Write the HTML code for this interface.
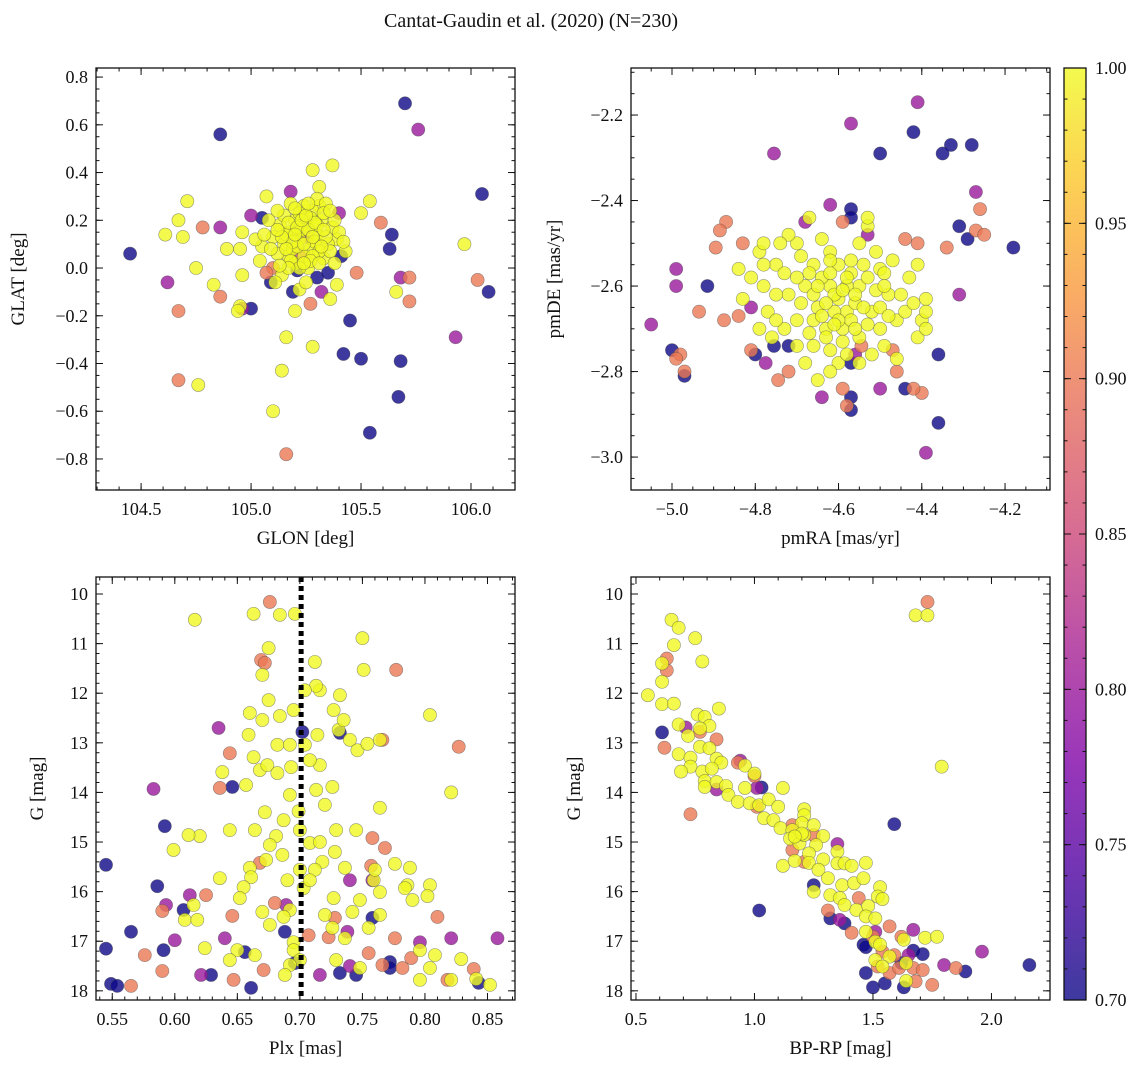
<!DOCTYPE html>
<html><head><meta charset="utf-8">
<style>
html,body{margin:0;padding:0;background:#fff;}
svg text{font-family:"Liberation Serif",serif;fill:#111;}
</style></head>
<body>
<svg id="fig" width="1148" height="1067" viewBox="0 0 1148 1067" xmlns="http://www.w3.org/2000/svg">
<text x="531" y="27" text-anchor="middle" font-size="20">Cantat-Gaudin et al. (2020) (N=230)</text>
</svg>
<script>
// ---- data: [x, y, membership probability] ----
const skyStars = [
[104.45,0.06,.7],[104.86,0.56,.7],[105.70,0.69,.7],[105.76,0.58,.8],[106.05,0.31,.7],[106.08,-0.10,.7],[106.03,-0.05,.9],[105.97,0.10,1],[105.93,-0.29,.8],
[104.62,-0.06,.8],[104.67,-0.18,.9],[104.67,-0.47,.9],[104.76,-0.49,1],[105.10,-0.60,1],[105.16,-0.78,.9],[105.14,-0.43,1],[105.16,-0.29,1],[105.28,-0.33,1],
[105.42,-0.36,.7],[105.50,-0.38,.7],[105.45,-0.22,.7],[105.54,-0.69,.7],[105.67,-0.54,.7],[105.68,-0.39,.7],[105.64,0.14,.7],[105.63,0.08,.7],[105.68,-0.04,.8],
[105.72,-0.04,.9],[105.72,-0.14,.9],[105.66,-0.10,1],[105.54,0.28,1],[105.50,0.23,1],[105.59,0.19,.9],[105.37,0.43,1],[105.28,0.41,1],[104.71,0.28,1],
[104.61,0.14,1],[104.67,0.20,1],[104.69,0.13,1],[104.78,0.17,.9],[104.75,0.00,1],[104.83,-0.07,1],[104.86,-0.12,.9],[104.86,0.17,.8],[104.89,0.08,1],
[104.95,0.08,1],[104.95,-0.16,1],[104.94,-0.18,1],[104.96,-0.17,.8],[105.00,-0.17,.7],[105.05,0.21,.7],[105.07,0.30,1],[105.00,0.22,.8],[104.96,0.15,1],
[104.96,-0.03,1],[105.04,0.03,1],[105.09,-0.06,.7],[105.18,0.32,.8],[105.31,0.34,1],[105.31,0.26,1],[105.40,0.23,.8],[105.39,0.12,1],[105.41,0.05,.7],
[105.48,-0.02,.9],[105.39,-0.07,1],[105.36,-0.13,1],[105.27,-0.15,.9],[105.19,-0.10,.7],[105.22,-0.09,1],[105.20,-0.18,1],[105.32,-0.10,.8],[105.30,-0.04,.7],
[105.15,0.10,1],[105.18,0.15,1],[105.20,0.20,1],[105.22,0.12,1],[105.25,0.18,1],[105.27,0.08,1],[105.30,0.14,1],[105.32,0.20,1],[105.35,0.10,1],[105.28,0.24,1],
[105.24,0.26,1],[105.17,0.05,1],[105.13,0.18,1],[105.10,0.13,1],[105.12,0.06,1],[105.20,0.02,1],[105.26,0.00,1],[105.33,0.04,1],[105.37,0.17,1],[105.22,0.23,1],
[105.30,0.29,1],[105.34,0.27,1],[105.15,0.22,1],[105.08,0.20,1],[105.05,0.09,1],[105.19,0.08,1],[105.24,0.05,1],[105.29,0.11,1],[105.23,0.16,1],[105.27,0.21,1],
[105.31,0.07,1],[105.18,0.27,1],[105.40,0.15,1],[105.43,0.07,1],[105.14,-0.03,1],[105.11,-0.06,1],[105.25,-0.06,1],[105.02,0.12,1],[105.30,0.18,1],[105.34,0.13,1],
[105.21,0.09,1],[105.16,0.14,1],[105.26,0.13,.8],[105.10,0.00,.9],[105.21,-0.01,.7],[105.35,-0.02,.7],[105.07,-0.02,.9],[105.22,0.06,.85],
[105.17,0.19,1],[105.19,0.11,1],[105.21,0.17,1],[105.24,0.10,1],[105.26,0.16,1],[105.28,0.05,1],[105.29,0.19,1],[105.33,0.16,1],[105.36,0.07,1],[105.23,0.20,1],
[105.25,0.22,1],[105.16,0.08,1],[105.14,0.13,1],[105.12,0.16,1],[105.18,0.03,1],[105.22,0.00,1],[105.27,0.03,1],[105.32,0.09,1],[105.38,0.20,1],[105.20,0.25,1],
[105.26,0.27,1],[105.33,0.23,1],[105.12,0.24,1],[105.06,0.14,1],[105.09,0.08,1],[105.28,0.13,1],[105.24,0.02,1],[105.31,0.02,1],[105.20,0.14,1],[105.17,0.00,1],
[105.36,0.24,1],[105.13,0.01,1],[105.38,0.02,1],[105.42,0.11,1]
];
const pmStars = [
[-4.41,-2.17,.8],[-4.57,-2.22,.8],[-4.50,-2.29,.7],[-4.42,-2.24,.7],[-4.33,-2.27,.7],[-4.35,-2.29,.7],[-4.28,-2.27,.7],[-4.755,-2.29,.8],[-4.27,-2.38,.8],
[-4.18,-2.51,.7],[-4.26,-2.42,.9],[-4.27,-2.47,.9],[-4.25,-2.48,.9],[-4.29,-2.49,.7],[-4.31,-2.46,.7],[-4.34,-2.51,.9],[-4.31,-2.62,.8],[-4.36,-2.76,.7],
[-4.36,-2.92,.7],[-4.39,-2.99,.8],[-4.40,-2.85,.9],[-4.42,-2.84,.9],[-4.44,-2.84,.7],[-5.05,-2.69,.8],[-4.99,-2.60,.8],[-4.99,-2.56,.8],[-5.00,-2.75,.7],
[-4.97,-2.81,.7],[-4.98,-2.76,.9],[-4.97,-2.80,.9],[-4.99,-2.77,.9],[-4.935,-2.66,.9],[-4.915,-2.60,.7],[-4.895,-2.51,.9],[-4.87,-2.45,.9],[-4.83,-2.50,.9],
[-4.885,-2.47,.9],[-4.875,-2.68,.9],[-4.84,-2.67,.9],[-4.81,-2.65,.8],[-4.80,-2.76,.7],[-4.775,-2.78,.8],[-4.755,-2.74,.7],[-4.81,-2.75,.9],[-4.72,-2.80,.9],
[-4.72,-2.74,.7],[-4.745,-2.82,.9],[-4.64,-2.86,.8],[-4.59,-2.84,.9],[-4.58,-2.88,.9],[-4.57,-2.89,.7],[-4.57,-2.86,.7],[-4.57,-2.78,.7],[-4.56,-2.76,.8],
[-4.50,-2.84,.8],[-4.46,-2.80,.9],[-4.47,-2.75,.9],[-4.545,-2.74,.9],[-4.57,-2.42,.7],[-4.57,-2.44,.7],[-4.62,-2.41,.8],[-4.59,-2.45,.9],[-4.68,-2.45,.8],
[-4.53,-2.48,.8],[-4.44,-2.49,.9],[-4.41,-2.50,.9],
[-4.60,-2.63,1],[-4.62,-2.60,1],[-4.58,-2.66,1],[-4.65,-2.65,1],[-4.55,-2.60,1],[-4.63,-2.70,1],[-4.57,-2.57,1],[-4.68,-2.60,1],[-4.52,-2.66,1],[-4.60,-2.55,1],
[-4.66,-2.55,1],[-4.70,-2.68,1],[-4.50,-2.70,1],[-4.55,-2.72,1],[-4.62,-2.75,1],[-4.72,-2.62,1],[-4.75,-2.55,1],[-4.78,-2.60,1],[-4.79,-2.52,1],[-4.70,-2.50,1],
[-4.64,-2.49,1],[-4.55,-2.50,1],[-4.50,-2.56,1],[-4.48,-2.62,1],[-4.46,-2.68,1],[-4.43,-2.58,1],[-4.41,-2.72,1],[-4.40,-2.68,1],[-4.46,-2.77,1],[-4.68,-2.78,1],
[-4.73,-2.70,1],[-4.77,-2.66,1],[-4.81,-2.58,1],[-4.84,-2.56,1],[-4.78,-2.50,1],[-4.67,-2.44,1],[-4.53,-2.46,1],[-4.49,-2.57,1],[-4.44,-2.66,1],[-4.66,-2.68,1],
[-4.59,-2.70,1],[-4.54,-2.55,1],[-4.61,-2.66,1],[-4.69,-2.64,1],[-4.56,-2.64,1],[-4.51,-2.61,1],[-4.64,-2.58,1],[-4.73,-2.57,1],[-4.60,-2.78,1],[-4.52,-2.76,1],
[-4.58,-2.60,1],[-4.70,-2.74,1],[-4.41,-2.55,1],[-4.39,-2.63,1],[-4.49,-2.74,1],[-4.65,-2.82,1],[-4.72,-2.48,1],[-4.83,-2.63,1],[-4.79,-2.70,1],[-4.62,-2.52,1],
[-4.39,-2.66,1],[-4.39,-2.70,1],[-4.53,-2.44,1],
[-4.61,-2.62,1],[-4.63,-2.64,1],[-4.59,-2.61,1],[-4.57,-2.68,1],[-4.64,-2.67,1],[-4.60,-2.68,1],[-4.56,-2.62,1],[-4.62,-2.57,1],[-4.58,-2.58,1],[-4.66,-2.62,1],
[-4.54,-2.65,1],[-4.59,-2.73,1],[-4.63,-2.72,1],[-4.67,-2.71,1],[-4.56,-2.70,1],[-4.53,-2.69,1],[-4.61,-2.69,1],[-4.65,-2.60,1],[-4.53,-2.58,1],[-4.67,-2.57,1],
[-4.57,-2.54,1],[-4.62,-2.54,1],[-4.70,-2.58,1],[-4.69,-2.53,1],[-4.75,-2.62,1],[-4.75,-2.68,1],[-4.58,-2.76,1],[-4.55,-2.78,1],[-4.50,-2.65,1],[-4.49,-2.60,1],
[-4.48,-2.67,1],[-4.51,-2.52,1],[-4.47,-2.54,1],[-4.74,-2.50,1],[-4.78,-2.55,1],[-4.76,-2.72,1],[-4.66,-2.74,1],[-4.62,-2.80,1],[-4.45,-2.62,1],[-4.42,-2.64,1]
];
const plxStars = [
[.616,10.52,1],[.663,10.40,1],[.684,10.42,1],[.696,10.40,1],[.675,11.09,1],[.670,11.63,1],[.712,11.37,1],[.750,10.89,1],[.716,11.94,1],[.727,12.34,1],
[.732,12.04,1],[.731,12.74,1],[.735,12.54,1],[.740,12.94,1],[.746,13.15,1],[.659,12.84,1],[.670,12.54,1],[.663,13.29,1],[.668,13.55,1],[.674,13.45,1],
[.682,13.61,1],[.693,13.49,1],[.657,13.85,1],[.638,13.59,1],[.716,13.45,1],[.692,14.05,1],[.713,13.95,1],[.699,14.38,1],[.726,13.89,1],[.720,14.25,1],
[.687,14.56,1],[.672,14.40,1],[.664,14.76,1],[.681,14.88,1],[.700,14.76,1],[.708,15.02,1],[.716,15.00,1],[.729,14.76,1],[.745,14.76,1],[.728,15.20,1],
[.718,15.40,1],[.712,15.56,1],[.700,15.56,1],[.690,15.77,1],[.673,15.36,1],[.660,15.52,1],[.661,15.71,1],[.655,15.91,1],[.644,14.76,1],[.620,14.88,1],
[.611,14.86,1],[.599,15.16,1],[.608,16.57,1],[.618,16.57,1],[.615,16.27,1],[.652,16.13,1],[.636,15.73,1],[.676,15.06,1],[.686,15.26,1],[.703,15.93,1],
[.708,15.77,1],[.727,16.13,1],[.748,16.17,1],[.759,15.77,1],[.760,15.56,1],[.776,15.44,1],[.788,15.52,1],[.786,15.87,1],[.764,16.01,1],[.755,16.73,1],
[.742,16.41,1],[.726,16.73,1],[.736,16.94,1],[.720,16.47,1],[.692,16.37,1],[.687,16.51,1],[.676,16.67,1],[.670,16.41,1],[.650,17.18,1],[.664,17.28,1],
[.695,17.02,1],[.695,17.18,1],[.700,17.38,1],[.692,17.48,1],[.688,17.68,1],[.729,17.38,1],[.748,17.54,1],[.784,15.93,1],[.790,16.17,1],[.804,15.87,1],
[.808,17.28,1],[.821,17.78,1],[.841,17.76,1],[.804,17.54,1],[.796,17.18,1],[.829,17.36,1],[.852,17.88,1],[.804,12.44,1],[.821,14.00,1],[.751,11.53,1],
[.713,11.85,1],[.704,11.94,1],[.675,12.14,1],[.684,12.46,1],[.682,13.04,1],[.692,13.04,1],[.704,13.04,1],[.708,13.35,1],[.714,12.84,1],[.695,12.34,1],
[.660,12.40,1],[.764,12.94,1],[.754,13.02,1],[.764,14.31,1],[.802,16.09,1],[.736,15.52,1],[.764,16.47,1],[.624,17.14,1],[.644,17.38,1],[.796,17.78,1],
[.545,15.46,.7],[.592,14.68,.7],[.586,15.89,.7],[.607,16.37,.7],[.565,16.81,.7],[.545,17.15,.7],[.549,17.86,.7],[.554,17.90,.7],[.591,17.18,.7],[.629,17.68,.7],
[.646,13.89,.7],[.656,17.22,.7],[.661,17.94,.7],[.702,12.78,.7],[.732,12.80,.7],[.688,16.81,.7],[.696,17.44,.7],[.732,17.64,.7],[.745,17.68,.7],[.772,17.42,.7],
[.772,17.54,.7],[.758,16.53,.7],[.843,17.84,.7],
[.583,13.93,.8],[.593,16.27,.8],[.600,16.98,.8],[.612,16.07,.8],[.621,17.68,.8],[.640,16.94,.8],[.635,12.70,.8],[.689,16.27,.8],[.716,17.68,.8],[.738,16.81,.8],
[.740,17.50,.8],[.796,17.02,.8],[.821,16.94,.8],[.858,16.94,.8],[.758,15.77,.8],[.740,15.77,.8],
[.676,10.16,.9],[.669,11.33,.9],[.672,11.39,.9],[.644,13.21,.9],[.636,13.91,.9],[.668,15.42,.9],[.646,16.49,.9],[.647,17.78,.9],[.671,17.58,.9],[.576,17.28,.9],
[.590,17.60,.9],[.565,17.90,.9],[.590,16.39,.9],[.625,16.07,.9],[.680,16.23,.9],[.707,16.88,.9],[.728,16.53,.9],[.758,14.92,.9],[.757,15.48,.9],[.768,15.12,.9],
[.776,16.94,.9],[.782,17.54,.9],[.766,17.48,.9],[.818,17.78,.9],[.827,13.08,.9],[.777,11.53,.9],[.766,12.94,.9],[.810,16.51,.9],[.755,17.24,.9],[.789,17.34,.9],
[.723,16.92,.9],[.839,17.56,.9]
];
const cmdStars = [
[.65,10.52,1],[.68,10.68,1],[.75,10.89,1],[.66,11.03,1],[.78,11.36,1],[.61,11.40,1],[.61,11.77,1],[.55,12.04,1],[.61,12.22,1],[.66,12.21,1],
[.85,12.31,1],[.76,12.43,1],[.79,12.48,1],[.81,12.66,1],[.77,12.71,1],[.68,12.63,1],[.72,12.86,1],[.68,13.23,1],[.77,13.08,1],[.81,13.11,1],
[.84,13.32,1],[.86,13.40,1],[.73,13.30,1],[.73,13.48,1],[.69,13.58,1],[.78,13.58,1],[.82,13.52,1],[.79,13.77,1],[.79,13.89,1],[.84,13.79,1],
[.88,13.87,1],[.89,14.05,1],[.93,14.19,1],[.96,13.91,1],[.98,14.22,1],[1.02,14.26,1],[.96,13.46,1],[1.00,13.62,1],[1.12,13.91,1],[1.06,14.14,1],
[1.10,14.29,1],[1.04,14.52,1],[1.08,14.56,1],[1.11,14.72,1],[1.21,14.34,1],[1.21,14.46,1],[1.20,14.62,1],[1.16,14.76,1],[1.15,14.93,1],[1.19,15.03,1],
[1.21,14.86,1],[1.25,14.66,1],[1.29,14.88,1],[1.26,15.06,1],[1.23,15.23,1],[1.23,15.42,1],[1.29,15.35,1],[1.35,15.19,1],[1.35,15.43,1],[1.38,15.43,1],
[1.41,15.48,1],[1.47,15.42,1],[1.12,15.48,1],[1.17,15.38,1],[1.27,15.56,1],[1.31,15.73,1],[1.25,16.00,1],[1.32,16.07,1],[1.37,15.87,1],[1.42,15.83,1],
[1.46,15.73,1],[1.53,15.91,1],[1.52,16.10,1],[1.54,16.15,1],[1.36,16.13,1],[1.38,16.27,1],[1.43,16.37,1],[1.48,16.29,1],[1.47,16.50,1],[1.51,16.54,1],
[1.47,16.81,1],[1.51,17.01,1],[1.53,17.07,1],[1.63,16.97,1],[1.72,16.93,1],[1.77,16.91,1],[1.51,17.38,1],[1.57,17.31,1],[1.54,17.51,1],[1.64,17.44,1],
[1.64,17.80,1],[1.68,10.43,1],[1.73,10.43,1],[1.79,13.48,1],[1.20,14.83,1],[1.17,14.89,1],
[.63,11.30,.9],[.63,11.54,.9],[.62,13.10,.9],[.84,12.93,.9],[.73,14.44,.9],[.77,12.78,.9],[.93,13.40,.9],[1.00,13.67,.9],[1.01,14.29,.9],[1.16,14.66,.9],
[1.25,14.86,.9],[1.16,15.16,.9],[1.21,15.40,.9],[1.31,16.38,.9],[1.44,16.13,.9],[1.41,16.83,.9],[1.50,16.91,.9],[1.57,16.70,.9],[1.62,16.91,.9],[1.54,17.21,.9],
[1.59,17.28,.9],[1.52,17.51,.9],[1.57,17.64,.9],[1.67,17.54,.9],[1.71,17.58,.9],[1.68,17.81,.9],[1.75,17.88,.9],[1.85,17.54,.9],[1.73,10.16,.9],[1.61,17.54,.9],
[.71,12.69,.8],[.94,13.36,.8],[1.01,13.91,.8],[.84,13.94,.8],[1.35,15.04,.8],[1.36,16.57,.8],[1.51,16.81,.8],[1.67,16.77,.8],[1.80,17.48,.8],[1.96,17.21,.8],[1.65,17.28,.8],
[.61,12.79,.7],[1.03,13.90,.7],[1.59,14.64,.7],[1.02,16.38,.7],[1.32,16.54,.7],[1.38,16.64,.7],[1.46,17.07,.7],[1.47,17.12,.7],[1.47,17.64,.7],[1.50,17.93,.7],
[1.55,17.85,.7],[1.63,17.93,.7],[1.67,17.19,.7],[1.71,17.26,.7],[1.89,17.61,.7],[2.16,17.48,.7],[1.25,15.87,.7],[1.62,17.44,.7]
];
const meanPlx = 0.701;
const cbarTicks = [0.70,0.75,0.80,0.85,0.90,0.95,1.00];
const glonTicks = [104.5,105.0,105.5,106.0];
const glatTicks = [-0.8,-0.6,-0.4,-0.2,0.0,0.2,0.4,0.6,0.8];
const pmraTicks = [-5.0,-4.8,-4.6,-4.4,-4.2];
const pmdeTicks = [-3.0,-2.8,-2.6,-2.4,-2.2];
const plxTicks = [0.55,0.60,0.65,0.70,0.75,0.80,0.85];
const gTicks = [10,11,12,13,14,15,16,17,18];
const bprpTicks = [0.5,1.0,1.5,2.0];

const NS='http://www.w3.org/2000/svg';
const svg=document.getElementById('fig');
function el(tag,attrs,parent){const e=document.createElementNS(NS,tag);for(const k in attrs)e.setAttribute(k,attrs[k]);(parent||svg).appendChild(e);return e;}
const stops=[[0,[13,8,135]],[.13,[76,2,161]],[.25,[126,3,168]],[.38,[169,35,149]],[.5,[204,71,120]],[.63,[229,107,93]],[.75,[248,149,64]],[.88,[253,197,39]],[1,[240,249,33]]];
function plasma(t){t=Math.max(0,Math.min(1,t));for(let i=1;i<stops.length;i++){if(t<=stops[i][0]){const a=stops[i-1],b=stops[i];const f=(t-a[0])/(b[0]-a[0]);const c=a[1].map((v,j)=>Math.round(v+(b[1][j]-v)*f));return 'rgb('+c.join(',')+')';}}return 'rgb(240,249,33)';}
function colorOf(p){return plasma((p-0.7)/0.3);}
const fmt=(v,d)=>(v<0?'\u2212':'')+Math.abs(v).toFixed(d);

function panel(cfg){
  const g=el('g',{});
  
  
  const {L,T,W,H,xd,yd,yInv}=cfg;
  const sx=v=>L+(v-xd[0])/(xd[1]-xd[0])*W;
  const sy=yInv?(v=>T+(v-yd[0])/(yd[1]-yd[0])*H):(v=>T+H-(v-yd[0])/(yd[1]-yd[0])*H);
  const pts=cfg.data.slice().sort((a,b)=>a[2]-b[2]);
  const pg=el('g',{},g);
  
  
  pts.forEach(d=>{
    const c=el('circle',{cx:sx(d[0]),cy:sy(d[1]),r:6.6,fill:colorOf(d[2]),'fill-opacity':0.8,stroke:'rgba(70,70,70,0.55)','stroke-width':0.6},pg);
    
    
  });
  if(cfg.extra)cfg.extra(g,sx,sy);
  const fr=el('rect',{x:L,y:T,width:W,height:H,fill:'none',stroke:'#111','stroke-width':1.3},g);
  
  
  const tk=el('g',{stroke:'#111','stroke-width':1},g);
  for(let v=Math.ceil(xd[0]/cfg.xm-1e-6)*cfg.xm;v<=xd[1]+1e-9;v+=cfg.xm){const x=sx(v);el('line',{x1:x,y1:T+H,x2:x,y2:T+H-3.5},tk);el('line',{x1:x,y1:T,x2:x,y2:T+3.5},tk);}
  const ylo=Math.min(yd[0],yd[1]),yhi=Math.max(yd[0],yd[1]);
  for(let v=Math.ceil(ylo/cfg.ym-1e-6)*cfg.ym;v<=yhi+1e-9;v+=cfg.ym){const y=sy(v);el('line',{x1:L,y1:y,x2:L+3.5,y2:y},tk);el('line',{x1:L+W,y1:y,x2:L+W-3.5,y2:y},tk);}
  cfg.xt.forEach(v=>{const x=sx(v);el('line',{x1:x,y1:T+H,x2:x,y2:T+H-7},tk);el('line',{x1:x,y1:T,x2:x,y2:T+7},tk);
    const t=el('text',{x:x,y:T+H+25,'text-anchor':'middle','font-size':18},g);t.textContent=fmt(v,cfg.xdp);
    });
  cfg.yt.forEach(v=>{const y=sy(v);el('line',{x1:L,y1:y,x2:L+7,y2:y},tk);el('line',{x1:L+W,y1:y,x2:L+W-7,y2:y},tk);
    const t=el('text',{x:L-8,y:y+6,'text-anchor':'end','font-size':18},g);t.textContent=fmt(v,cfg.ydp);
    });
  const xl=el('text',{x:L+W/2,y:T+H+54,'text-anchor':'middle','font-size':19},g);xl.textContent=cfg.xlabel;
  
  const yl=el('text',{x:0,y:0,'text-anchor':'middle','font-size':19,transform:`translate(${cfg.ylx},${T+H/2}) rotate(-90)`},g);yl.textContent=cfg.ylabel;
  
}

panel({name:'sky-position-panel',L:96,T:68,W:419,H:422,xd:[104.295,106.2],yd:[-0.930,0.838],xm:0.1,ym:0.05,xt:glonTicks,yt:glatTicks,xdp:1,ydp:1,data:skyStars,xlabel:'GLON [deg]',ylabel:'GLAT [deg]',ylx:24});
panel({name:'proper-motion-panel',L:631,T:68,W:419,H:422,xd:[-5.0985,-4.092],yd:[-3.077,-2.090],xm:0.05,ym:0.05,xt:pmraTicks,yt:pmdeTicks,xdp:1,ydp:1,data:pmStars,xlabel:'pmRA [mas/yr]',ylabel:'pmDE [mas/yr]',ylx:560});
panel({name:'parallax-magnitude-panel',L:96,T:577,W:419,H:423,xd:[0.537,0.872],yd:[9.657,18.185],yInv:true,xm:0.01,ym:0.2,xt:plxTicks,yt:gTicks,xdp:2,ydp:0,data:plxStars,xlabel:'Plx [mas]',ylabel:'G [mag]',ylx:43,
  extra:(g,sx,sy)=>{const l=el('line',{x1:sx(meanPlx),y1:577,x2:sx(meanPlx),y2:1000,stroke:'#000','stroke-width':5,'stroke-dasharray':'5,4'},g);
    }});
panel({name:'color-magnitude-panel',L:631,T:577,W:419,H:423,xd:[0.479,2.247],yd:[9.657,18.185],yInv:true,xm:0.1,ym:0.2,xt:bprpTicks,yt:gTicks,xdp:1,ydp:0,data:cmdStars,xlabel:'BP-RP [mag]',ylabel:'G [mag]',ylx:580});

(function(){
  const L=1064,T=68,W=22,H=932;
  const cb=el('g',{});
  
  
  const defs=el('defs',{},cb);
  const lg=el('linearGradient',{id:'cbg',x1:0,y1:1,x2:0,y2:0},defs);
  for(let i=0;i<=20;i++){el('stop',{offset:i/20,'stop-color':plasma(i/20),'stop-opacity':0.8},lg);}
  el('rect',{x:L,y:T,width:W,height:H,fill:'url(#cbg)'},cb);
  el('rect',{x:L,y:T,width:W,height:H,fill:'none',stroke:'#111','stroke-width':1.3},cb);
  const sy=v=>T+H-(v-0.7)/0.3*H;
  for(let k=0;k<=30;k++){const y=sy(0.7+k*0.01);el('line',{x1:L+W,y1:y,x2:L+W-3.5,y2:y,stroke:'#111'},cb);el('line',{x1:L,y1:y,x2:L+3.5,y2:y,stroke:'#111'},cb);}
  cbarTicks.forEach(v=>{const y=sy(v);el('line',{x1:L+W,y1:y,x2:L+W-7,y2:y,stroke:'#111'},cb);el('line',{x1:L,y1:y,x2:L+7,y2:y,stroke:'#111'},cb);
    const t=el('text',{x:L+W+9,y:y+6,'font-size':18},cb);t.textContent=v.toFixed(2);
    });
})();
</script>
</body></html>
